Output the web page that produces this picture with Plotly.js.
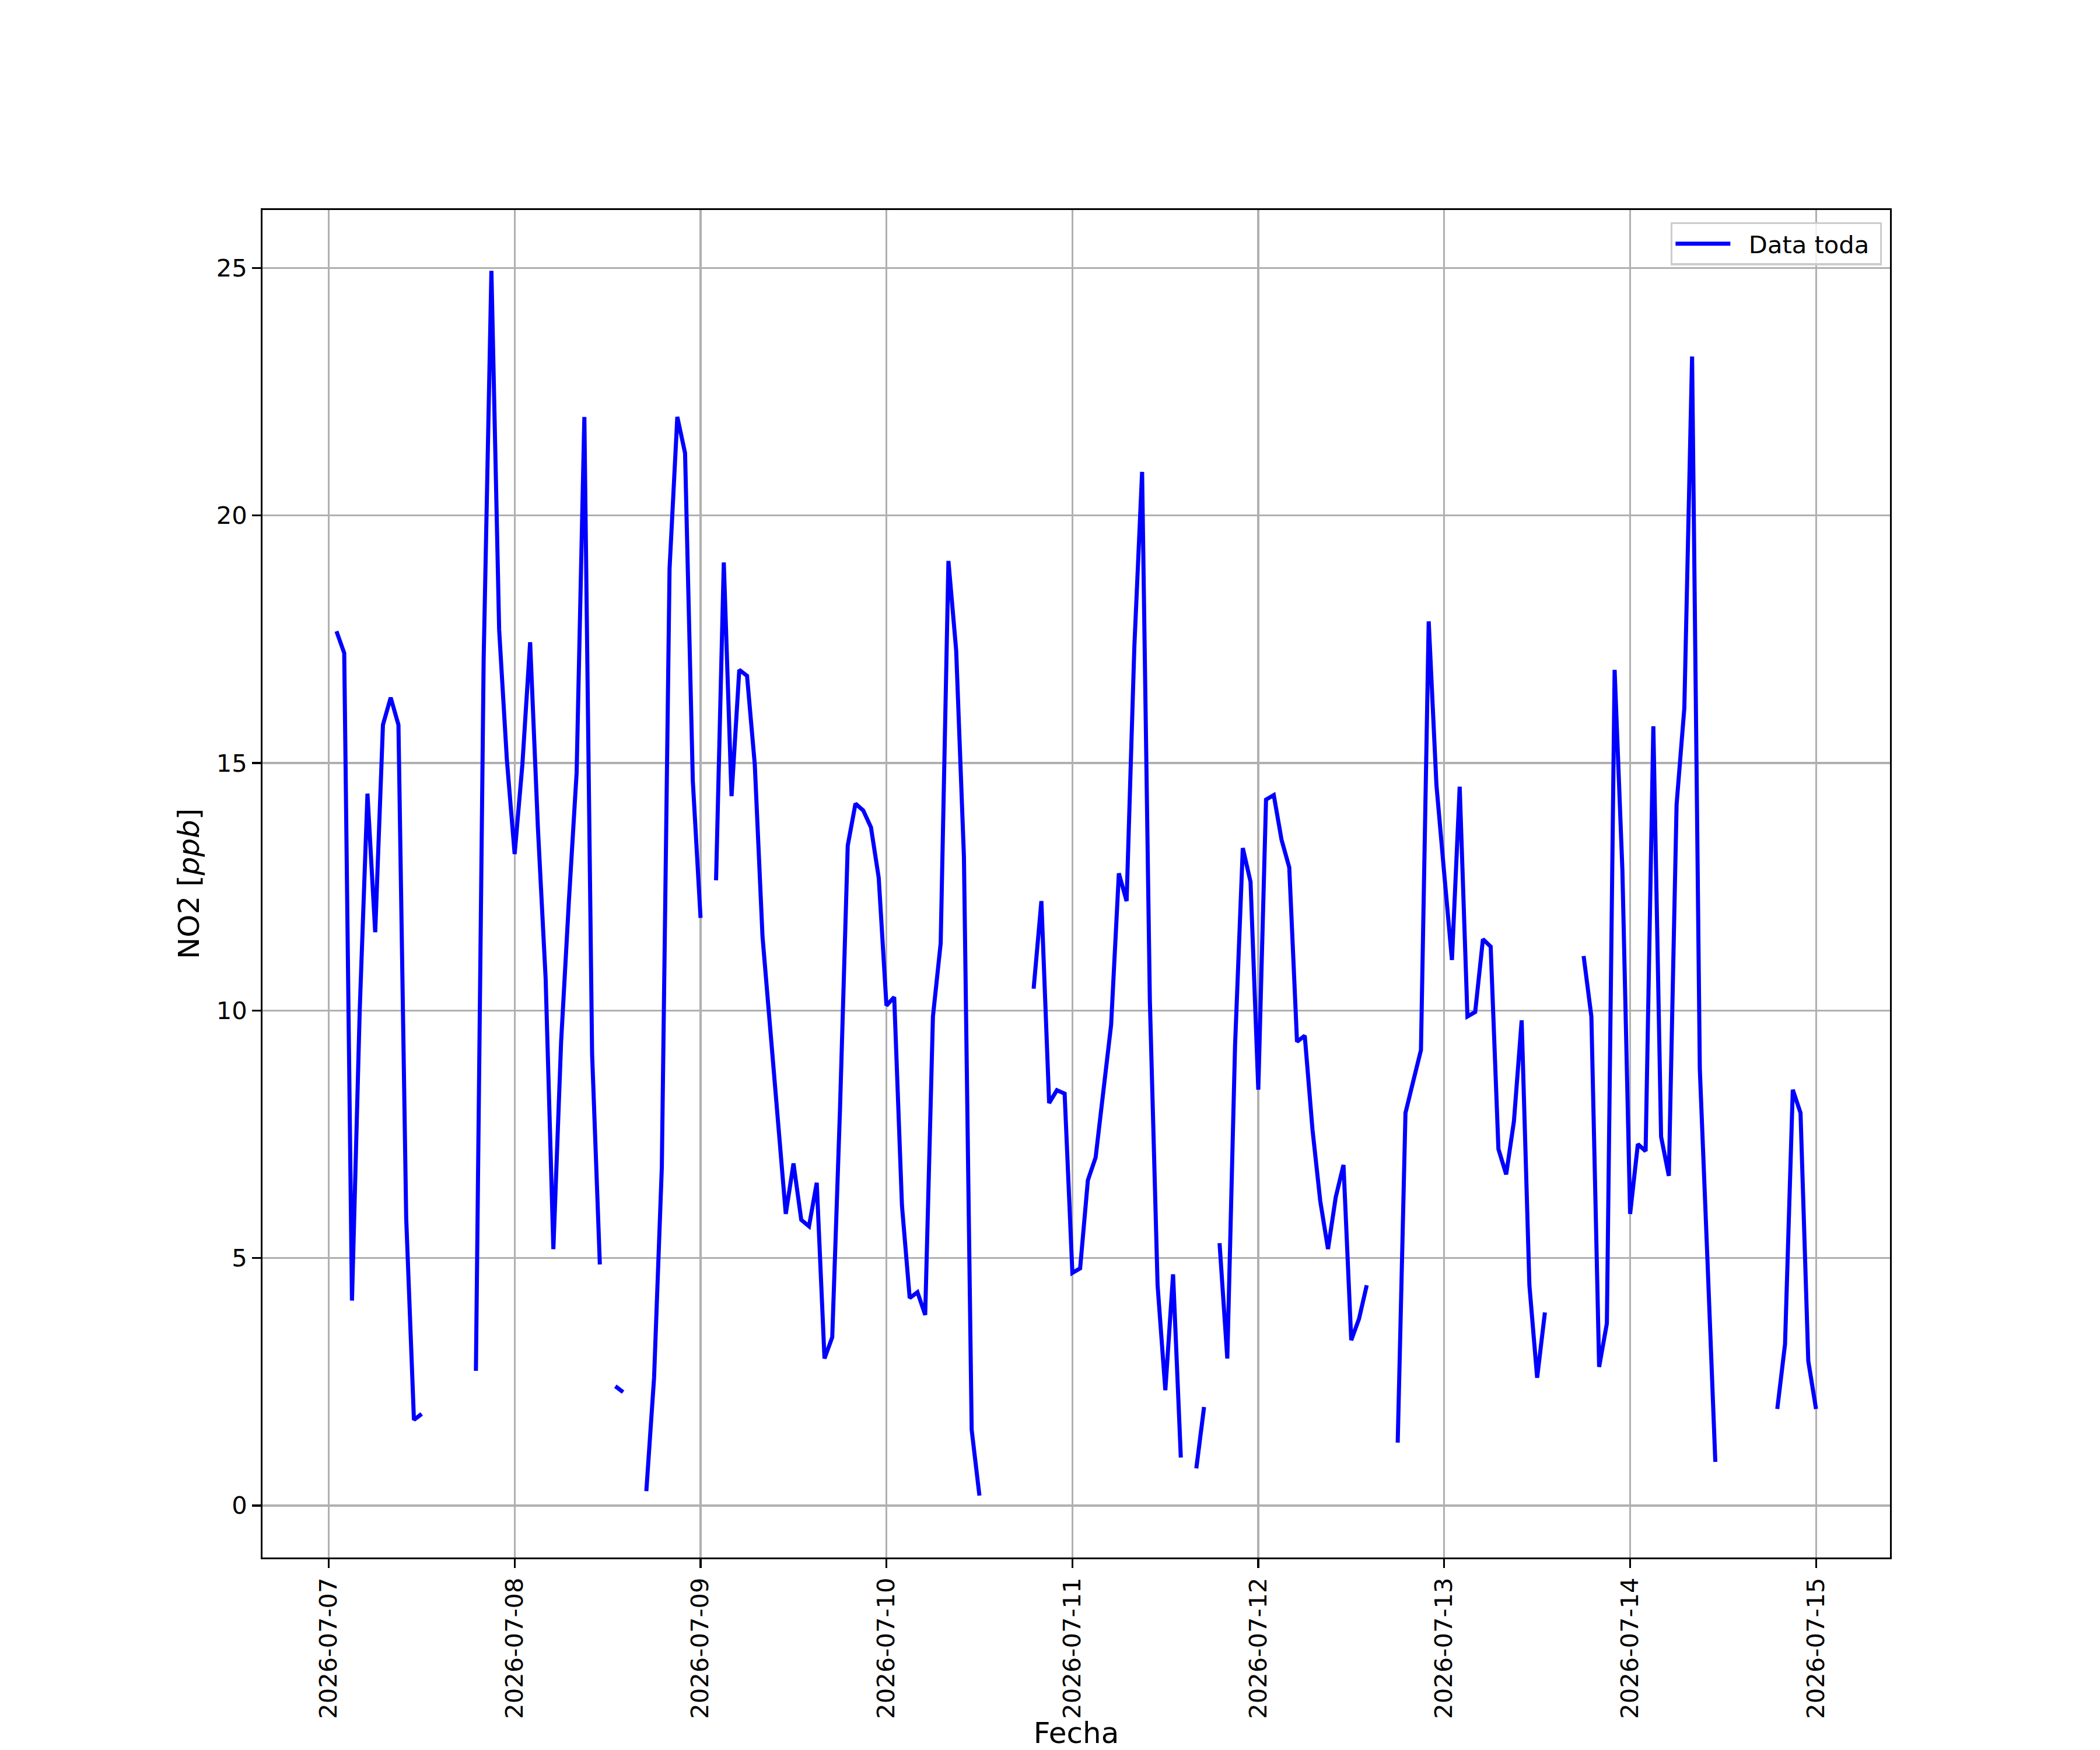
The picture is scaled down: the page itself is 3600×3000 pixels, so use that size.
<!DOCTYPE html>
<html>
<head>
<meta charset="utf-8">
<script src="https://cdn.plot.ly/plotly-3.0.1.min.js"></script>
<style>html,body{margin:0;padding:0;background:#fff;}</style>
</head>
<body>
<div id="chart" style="width:3600px;height:3000px;"></div>
<script>
// Hourly NO2 values (ppb), one array per day, index = hour of day; null = missing
const days = ["2026-07-07","2026-07-08","2026-07-09","2026-07-10","2026-07-11","2026-07-12","2026-07-13","2026-07-14","2026-07-15"];
const day0 = [null,17.66,17.22,4.14,10.0,14.38,11.58,15.77,16.32,15.77,5.81,1.73,1.85,null,null,null,null,null,null,2.72,17.1,24.94,17.69,15.06];
const day1 = [13.16,14.97,17.44,13.70,10.65,5.18,9.37,12.2,14.8,21.99,9.12,4.87,null,2.41,2.29,null,null,0.29,2.58,6.83,18.93,21.99,21.26,14.64];
const day2 = [11.87,null,12.63,19.05,14.33,16.88,16.76,14.97,11.49,9.63,7.84,5.89,6.91,5.77,5.64,6.52,2.97,3.40,8.0,13.33,14.18,14.04,13.70,12.68];
const day3 = [10.10,10.27,6.06,4.19,4.31,3.85,9.88,11.36,19.08,17.27,13.11,1.53,0.20,null,null,null,null,null,null,10.44,12.21,8.13,8.39,8.32];
const day4 = [4.70,4.79,6.57,7.03,8.44,9.71,12.77,12.21,17.35,20.88,10.22,4.45,2.33,4.67,0.97,null,0.75,1.99,null,5.30,2.97,9.29,13.28,12.60];
const day5 = [8.40,14.26,14.35,13.45,12.89,9.37,9.49,7.59,6.15,5.18,6.23,6.88,3.34,3.77,4.45,null,null,null,1.27,7.93,8.57,9.20,17.86,14.55];
const day6 = [12.77,11.02,14.52,9.88,9.97,11.44,11.29,7.20,6.69,7.76,9.80,4.45,2.58,3.90,null,null,null,null,11.10,9.88,2.80,3.68,16.88,12.85];
const day7 = [5.89,7.30,7.16,15.74,7.45,6.66,14.16,16.11,23.21,8.81,4.9,0.88,null,null,null,null,null,null,null,1.95,3.26,8.40,7.93,2.92];
const day8 = [1.95];
const dayValues = [day0,day1,day2,day3,day4,day5,day6,day7,day8];

const seriesName = "Data toda";
const xTitle = "Fecha";
const yTitle = "NO2 [<i>ppb</i>]";
const yTicks = [0,5,10,15,20,25];

const x = [], y = [];
dayValues.forEach((vals, d) => {
  vals.forEach((v, h) => {
    x.push(days[d] + " " + String(h).padStart(2,"0") + ":00");
    y.push(v);
  });
});

const FONT = "DejaVu Sans, Liberation Sans, sans-serif";
const FS = 41.67;
const FS_LABEL = 50;

const trace = {
  type: "scatter", mode: "lines", x: x, y: y,
  name: "\u00a0\u00a0" + seriesName + "\u00a0",
  connectgaps: false,
  line: {color: "#0000ff", width: 7},
  showlegend: true
};

const axisCommon = {
  showline: true, linecolor: "#000", linewidth: 3.3, mirror: true,
  ticks: "outside", ticklen: 14.6, tickwidth: 3.3, tickcolor: "#000",
  showgrid: true, gridcolor: "#b0b0b0", gridwidth: 3.3,
  zeroline: false,
  tickfont: {family: FONT, size: FS, color: "#000"}
};

const layout = {
  width: 3600, height: 3000,
  paper_bgcolor: "#fff", plot_bgcolor: "#fff",
  margin: {l: 450, r: 360, t: 360, b: 330, pad: 0},
  font: {family: FONT, size: FS, color: "#000"},
  showlegend: true,
  legend: {
    x: 0.995, y: 0.991, xanchor: "right", yanchor: "top",
    bgcolor: "rgba(255,255,255,0.8)", bordercolor: "#cccccc", borderwidth: 3.3,
    font: {family: FONT, size: FS, color: "#000"},
    itemwidth: 94
  },
  xaxis: Object.assign({}, axisCommon, {
    type: "date",
    range: ["2026-07-06 15:27", "2026-07-15 09:33"],
    tick0: days[0], dtick: 86400000,
    tickformat: "%Y-%m-%d",
    tickangle: -90,
    automargin: false,
    title: {text: xTitle, font: {family: FONT, size: FS_LABEL, color: "#000"}, standoff: 22}
  }),
  yaxis: Object.assign({}, axisCommon, {
    range: [-1.05, 26.17],
    tickvals: yTicks,
    ticktext: yTicks.map(String),
    automargin: false,
    title: {text: yTitle, font: {family: FONT, size: FS_LABEL, color: "#000"}, standoff: 14}
  })
};

Plotly.newPlot("chart", [trace], layout, {staticPlot: true, displayModeBar: false});
</script>
</body>
</html>
